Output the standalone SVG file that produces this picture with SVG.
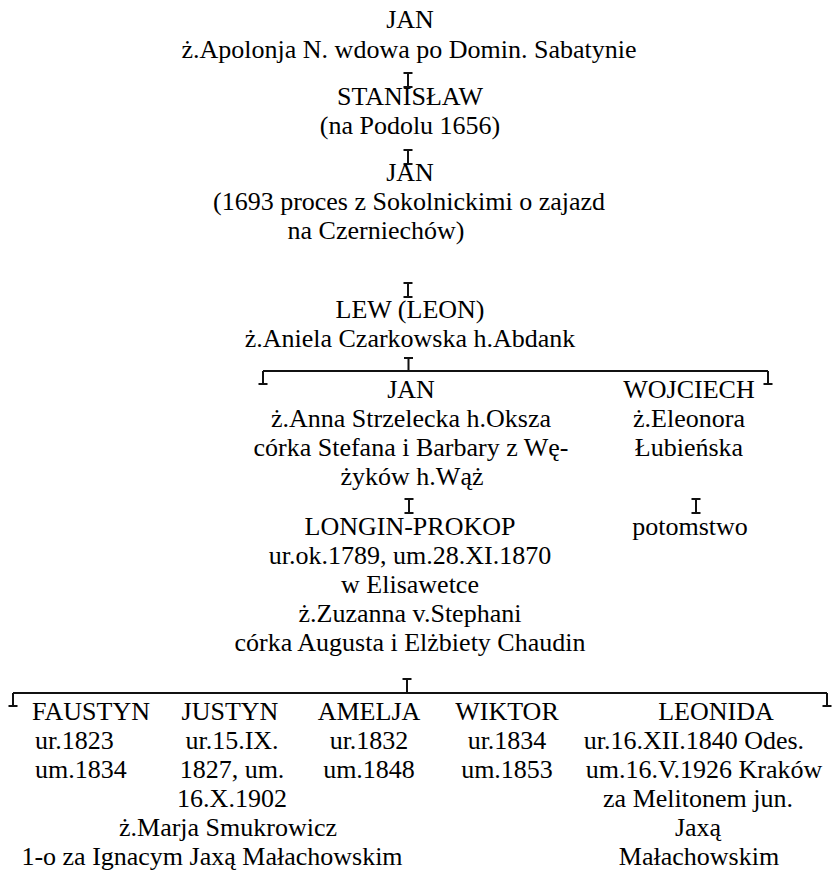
<svg xmlns="http://www.w3.org/2000/svg" width="839" height="872" viewBox="0 0 839 872">
  <style>
    .c { text-anchor: middle; }
    .l { text-anchor: start; }
    .ln { stroke: #111; stroke-width: 2; fill: none; }
  </style>
  <defs>
    <!-- short descent tick between generations -->
    <path id="ibeam" class="ln" d="M-4.5,0 H4.5 M0,0 V14 M-4.5,14 H4.5"/>
    <!-- drop at the end of a sibling bar -->
    <path id="foot" class="ln" d="M0,0 V13 M-4.5,13 H4.5"/>
  </defs>
  <rect width="839" height="872" fill="#fff"/>

  <g id="connectors">
    <use href="#ibeam" x="408" y="73"/>
    <use href="#ibeam" x="408" y="150"/>
    <use href="#ibeam" x="408" y="283"/>
    <!-- children of Lew -->
    <path class="ln" d="M404,358 H413 M408.5,358 V371 M263,371 H768"/>
    <use href="#foot" x="263" y="371"/>
    <use href="#foot" x="768" y="371"/>
    <use href="#ibeam" x="409" y="499"/>
    <use href="#ibeam" x="696" y="499"/>
    <!-- children of Longin-Prokop -->
    <path class="ln" d="M402.5,679 H411.5 M407,679 V693 M13,693 H827"/>
    <use href="#foot" x="13" y="693"/>
    <use href="#foot" x="827" y="693"/>
  </g>

  <g font-family="Liberation Serif, DejaVu Serif, serif" font-size="26" fill="#000">
  <g id="jan-1">
    <text class="c" x="410" y="28">JAN</text>
    <text class="c" x="409" y="58">ż.Apolonja N. wdowa po Domin. Sabatynie</text>
  </g>
  <g id="stanislaw">
    <text class="c" x="410" y="105">STANISŁAW</text>
    <text class="c" x="410" y="134">(na Podolu 1656)</text>
  </g>
  <g id="jan-2">
    <text class="c" x="410" y="181">JAN</text>
    <text class="c" x="409" y="210">(1693 proces z Sokolnickimi o zajazd</text>
    <text class="c" x="376" y="239">na Czerniechów)</text>
  </g>
  <g id="lew">
    <text class="c" x="410" y="318">LEW (LEON)</text>
    <text class="c" x="410" y="347">ż.Aniela Czarkowska h.Abdank</text>
  </g>
  <g id="jan-3">
    <text class="c" x="411" y="398">JAN</text>
    <text class="c" x="411" y="427">ż.Anna Strzelecka h.Oksza</text>
    <text class="c" x="411" y="456">córka Stefana i Barbary z Wę-</text>
    <text class="c" x="412" y="485">żyków h.Wąż</text>
  </g>
  <g id="wojciech">
    <text class="c" x="689" y="398">WOJCIECH</text>
    <text class="c" x="689" y="427">ż.Eleonora</text>
    <text class="c" x="689" y="456">Łubieńska</text>
    <text class="c" x="690" y="535">potomstwo</text>
  </g>
  <g id="longin-prokop">
    <text class="c" x="410" y="535">LONGIN-PROKOP</text>
    <text class="c" x="410" y="564">ur.ok.1789, um.28.XI.1870</text>
    <text class="c" x="410" y="593">w Elisawetce</text>
    <text class="c" x="410" y="622">ż.Zuzanna v.Stephani</text>
    <text class="c" x="410" y="651">córka Augusta i Elżbiety Chaudin</text>
  </g>
  <g id="faustyn">
    <text class="l" x="32" y="720">FAUSTYN</text>
    <text class="l" x="35" y="749">ur.1823</text>
    <text class="l" x="35" y="778">um.1834</text>
  </g>
  <g id="justyn">
    <text class="c" x="230" y="720">JUSTYN</text>
    <text class="c" x="232" y="749">ur.15.IX.</text>
    <text class="c" x="232" y="778">1827, um.</text>
    <text class="c" x="232" y="807">16.X.1902</text>
    <text class="c" x="228" y="836">ż.Marja Smukrowicz</text>
    <text class="c" x="212" y="865">1-o za Ignacym Jaxą Małachowskim</text>
  </g>
  <g id="amelja">
    <text class="c" x="369" y="720">AMELJA</text>
    <text class="c" x="369" y="749">ur.1832</text>
    <text class="c" x="369" y="778">um.1848</text>
  </g>
  <g id="wiktor">
    <text class="c" x="507" y="720">WIKTOR</text>
    <text class="c" x="507" y="749">ur.1834</text>
    <text class="c" x="507" y="778">um.1853</text>
  </g>
  <g id="leonida">
    <text class="c" x="716" y="720">LEONIDA</text>
    <text class="c" x="694" y="749">ur.16.XII.1840 Odes.</text>
    <text class="c" x="704" y="778">um.16.V.1926 Kraków</text>
    <text class="c" x="698" y="807">za Melitonem jun.</text>
    <text class="c" x="698" y="836">Jaxą</text>
    <text class="c" x="699" y="865">Małachowskim</text>
  </g>
  </g>
</svg>
